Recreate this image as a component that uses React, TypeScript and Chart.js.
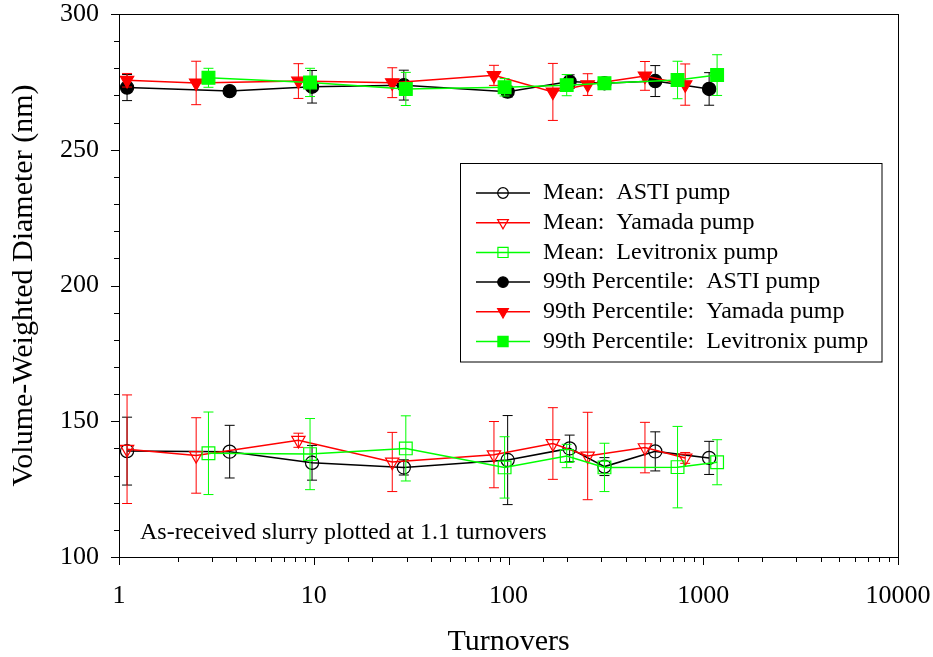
import React, { useEffect, useRef } from "react";
import { Chart, registerables } from "chart.js";

Chart.register(...registerables);

const FONT = "'Liberation Serif', 'Times New Roman', Times, serif";

// Turnovers (x) per pump
const astiTurnovers = [1.1, 3.7, 9.8, 29, 99, 206, 311, 567, 1072];
const yamadaTurnovers = [1.1, 2.49, 8.34, 25.3, 84.2, 169, 255, 502, 808];
const levitronixTurnovers = [2.88, 9.57, 29.7, 95.5, 199, 311, 738, 1178];

// Mean volume-weighted diameter (nm) and error
const astiMean = [139.0, 138.8, 134.7, 133.0, 135.7, 140.0, 133.3, 138.9, 136.5];
const astiMeanErr = [12.5, 9.7, 6.4, 2.8, 16.4, 4.9, 3.3, 7.2, 6.1];
const yamadaMean = [139.7, 137.4, 143.0, 135.0, 137.7, 141.8, 137.2, 140.3, 136.5];
const yamadaMeanErr = [20, 13.9, 2.6, 10.9, 12.2, 13.2, 16.1, 9.3, 2];
const levitronixMean = [138.2, 137.9, 140.0, 133.0, 137.2, 133.0, 133.1, 134.9];
const levitronixMeanErr = [15.2, 13.1, 12, 11.3, 4.3, 8.9, 15.0, 8.3];

// 99th percentile (nm) and error
const asti99 = [272.9, 271.6, 273.2, 273.8, 271.4, 275.1, 274.5, 275.3, 272.4];
const asti99Err = [4.8, 1.5, 6, 5.5, 2, 2.5, 1, 5.7, 6];
const yamada99 = [275.6, 274.6, 275.3, 274.7, 277.4, 271.3, 274.0, 277.2, 274.0];
const yamada99Err = [2.5, 8, 6.4, 5.5, 3.7, 10.5, 4, 5.3, 7.6];
const levitronix99 = [276.5, 274.8, 272.4, 273.0, 273.8, 274.5, 275.7, 277.5];
const levitronix99Err = [3.5, 5.2, 6.1, 3.2, 3.9, 1, 6.9, 7.5];

// Axis labels
const xTickLabels = [1, 10, 100, 1000, 10000];
const yTickLabels = [100, 150, 200, 250, 300];
const xTitle = "Turnovers";
const yTitle = "Volume-Weighted Diameter (nm)";
const noteText = "As-received slurry plotted at 1.1 turnovers";

const seriesLabels = [
  "Mean:  ASTI pump",
  "Mean:  Yamada pump",
  "Mean:  Levitronix pump",
  "99th Percentile:  ASTI pump",
  "99th Percentile:  Yamada pump",
  "99th Percentile:  Levitronix pump",
];

const BLACK = "#000000";
const RED = "#ff0000";
const GREEN = "#00ff00";
const CLEAR = "rgba(255,255,255,0)";

const zip = (xs: number[], ys: number[]) => xs.map((x, i) => ({ x, y: ys[i] }));

const mainRadius: Record<string, number> = { circle: 6.6, triangle: 7.7, rect: 9 };
const legendRadius: Record<string, number> = { circle: 5.3, triangle: 6.2, rect: 7.2 };

function drawMarker(
  ctx: CanvasRenderingContext2D,
  style: string,
  x: number,
  y: number,
  r: number,
  rotDeg: number,
  fill: string,
  stroke: string,
  lw: number
) {
  ctx.beginPath();
  if (style === "circle") {
    ctx.arc(x, y, r, 0, Math.PI * 2);
  } else if (style === "rect") {
    const s = r * Math.SQRT1_2;
    ctx.rect(x - s, y - s, 2 * s, 2 * s);
  } else {
    let a = (rotDeg * Math.PI) / 180;
    ctx.moveTo(x + Math.sin(a) * r, y - Math.cos(a) * r);
    a += (2 * Math.PI) / 3;
    ctx.lineTo(x + Math.sin(a) * r, y - Math.cos(a) * r);
    a += (2 * Math.PI) / 3;
    ctx.lineTo(x + Math.sin(a) * r, y - Math.cos(a) * r);
    ctx.closePath();
  }
  ctx.fillStyle = fill;
  ctx.fill();
  ctx.strokeStyle = stroke;
  ctx.lineWidth = lw;
  ctx.stroke();
}

const errorBarPlugin = {
  id: "errorBars",
  beforeDatasetDraw(chart: any, args: any) {
    const ds = chart.data.datasets[args.index];
    const errs: number[] | undefined = ds.errorBars;
    if (!errs) return;
    const ctx = chart.ctx;
    const yScale = chart.scales.y;
    ctx.save();
    ctx.strokeStyle = ds.borderColor;
    ctx.lineWidth = 1;
    args.meta.data.forEach((pt: any, i: number) => {
      const v = ds.data[i].y;
      const e = errs[i];
      const yt = yScale.getPixelForValue(v + e);
      const yb = yScale.getPixelForValue(v - e);
      const x = pt.x;
      ctx.beginPath();
      ctx.moveTo(x, yt);
      ctx.lineTo(x, yb);
      ctx.moveTo(x - 5, yt);
      ctx.lineTo(x + 5, yt);
      ctx.moveTo(x - 5, yb);
      ctx.lineTo(x + 5, yb);
      ctx.stroke();
    });
    ctx.restore();
  },
};

const isPow10 = (v: number) => Math.abs(Math.log10(v) - Math.round(Math.log10(v))) < 1e-9;

const framePlugin = {
  id: "frameTicks",
  afterDraw(chart: any) {
    const { ctx, chartArea } = chart;
    const { left, right, top, bottom } = chartArea;
    ctx.save();
    ctx.strokeStyle = "#000";
    ctx.lineWidth = 1;
    ctx.strokeRect(Math.round(left) + 0.5, Math.round(top) + 0.5, Math.round(right - left), Math.round(bottom - top));
    // y ticks
    const ys = chart.scales.y;
    ctx.beginPath();
    ys.ticks.forEach((t: any) => {
      const py = Math.round(ys.getPixelForValue(t.value)) + 0.5;
      const len = yTickLabels.includes(t.value) ? 8 : 5;
      ctx.moveTo(left - len, py);
      ctx.lineTo(left, py);
    });
    // x ticks
    const xs = chart.scales.x;
    xs.ticks.forEach((t: any) => {
      if (t.value < xs.min - 1e-9 || t.value > xs.max + 1e-9) return;
      const px = Math.round(xs.getPixelForValue(t.value)) + 0.5;
      const len = isPow10(t.value) ? 8 : 5;
      ctx.moveTo(px, bottom);
      ctx.lineTo(px, bottom + len);
    });
    ctx.stroke();

    // note text
    ctx.fillStyle = "#000";
    ctx.font = `24px ${FONT}`;
    ctx.textAlign = "left";
    ctx.textBaseline = "alphabetic";
    ctx.fillText(noteText, left + 21, bottom - 18);

    // legend
    const bx = 460.5, by = 163.5, bw = 421.5, bh = 198.5;
    ctx.strokeStyle = "#000";
    ctx.lineWidth = 1;
    ctx.strokeRect(bx, by, bw, bh);
    chart.data.datasets.forEach((ds: any, i: number) => {
      const y = 193 + i * 29.7;
      ctx.strokeStyle = ds.borderColor;
      ctx.lineWidth = 1.5;
      ctx.beginPath();
      ctx.moveTo(476, y);
      ctx.lineTo(530, y);
      ctx.stroke();
      drawMarker(
        ctx,
        ds.pointStyle,
        503,
        y,
        legendRadius[ds.pointStyle],
        ds.pointRotation || 0,
        ds.pointBackgroundColor,
        ds.pointBorderColor,
        1.2
      );
      ctx.fillStyle = "#000";
      ctx.font = `24px ${FONT}`;
      ctx.textBaseline = "middle";
      ctx.textAlign = "left";
      ctx.fillText(ds.label, 543, y);
    });
    ctx.restore();
  },
};

function makeDataset(
  label: string,
  xs: number[],
  ys: number[],
  errs: number[],
  color: string,
  style: string,
  filled: boolean,
  order: number
) {
  return {
    label,
    data: zip(xs, ys),
    errorBars: errs,
    borderColor: color,
    backgroundColor: color,
    borderWidth: 1.5,
    pointStyle: style,
    pointRotation: style === "triangle" ? 180 : 0,
    pointRadius: mainRadius[style],
    pointHoverRadius: mainRadius[style],
    pointBorderWidth: 1.2,
    pointBorderColor: color,
    pointBackgroundColor: filled ? color : CLEAR,
    fill: false,
    tension: 0,
    order,
  };
}

const zeroPad = (s: any) => {
  s.paddingLeft = 0;
  s.paddingRight = 0;
  s.paddingTop = 0;
  s.paddingBottom = 0;
};

export default function App() {
  const canvasRef = useRef<HTMLCanvasElement | null>(null);

  useEffect(() => {
    document.body.style.margin = "0";
    const canvas = canvasRef.current;
    if (!canvas) return;
    const chart = new Chart(canvas, {
      type: "line",
      data: {
        datasets: [
          makeDataset(seriesLabels[0], astiTurnovers, astiMean, astiMeanErr, BLACK, "circle", false, 6),
          makeDataset(seriesLabels[1], yamadaTurnovers, yamadaMean, yamadaMeanErr, RED, "triangle", false, 5),
          makeDataset(seriesLabels[2], levitronixTurnovers, levitronixMean, levitronixMeanErr, GREEN, "rect", false, 4),
          makeDataset(seriesLabels[3], astiTurnovers, asti99, asti99Err, BLACK, "circle", true, 3),
          makeDataset(seriesLabels[4], yamadaTurnovers, yamada99, yamada99Err, RED, "triangle", true, 2),
          makeDataset(seriesLabels[5], levitronixTurnovers, levitronix99, levitronix99Err, GREEN, "rect", true, 1),
        ] as any,
      },
      options: {
        responsive: false,
        animation: false,
        devicePixelRatio: 1,
        events: [],
        layout: { padding: { left: 0, top: 14, right: 35, bottom: 0 } },
        plugins: {
          legend: { display: false },
          tooltip: { enabled: false },
        },
        scales: {
          x: {
            type: "logarithmic",
            min: 1,
            max: 10000,
            grid: { display: false, drawTicks: false },
            border: { display: false },
            ticks: {
              autoSkip: false,
              maxRotation: 0,
              padding: 24,
              color: "#000",
              font: { family: FONT, size: 26 },
              callback: (v: any) => {
                const n = Number(v);
                const hit = xTickLabels.find((t) => Math.abs(t - n) < 1e-6 * t);
                return hit !== undefined ? String(hit) : "";
              },
            },
            title: {
              display: true,
              text: xTitle,
              color: "#000",
              font: { family: FONT, size: 30, lineHeight: 1 },
              padding: { top: 0, bottom: 0 },
            },
            afterFit: (s: any) => {
              s.height = 100;
              zeroPad(s);
            },
          },
          y: {
            type: "linear",
            min: 100,
            max: 300,
            grid: { display: false, drawTicks: false },
            border: { display: false },
            ticks: {
              stepSize: 10,
              maxTicksLimit: 100,
              autoSkip: false,
              padding: 20,
              color: "#000",
              font: { family: FONT, size: 26 },
              callback: (v: any) => (yTickLabels.includes(Number(v)) ? String(v) : ""),
            },
            title: {
              display: true,
              text: yTitle,
              color: "#000",
              font: { family: FONT, size: 30, lineHeight: 1 },
              padding: { top: 9, bottom: 0 },
            },
            afterFit: (s: any) => {
              s.width = 119;
              zeroPad(s);
            },
          },
        },
      } as any,
      plugins: [errorBarPlugin, framePlugin],
    });
    return () => chart.destroy();
  }, []);

  return (
    <div style={{ width: 933, height: 657, position: "relative", background: "#fff" }}>
      <canvas ref={canvasRef} width={933} height={657} style={{ width: 933, height: 657, display: "block" }} />
    </div>
  );
}
